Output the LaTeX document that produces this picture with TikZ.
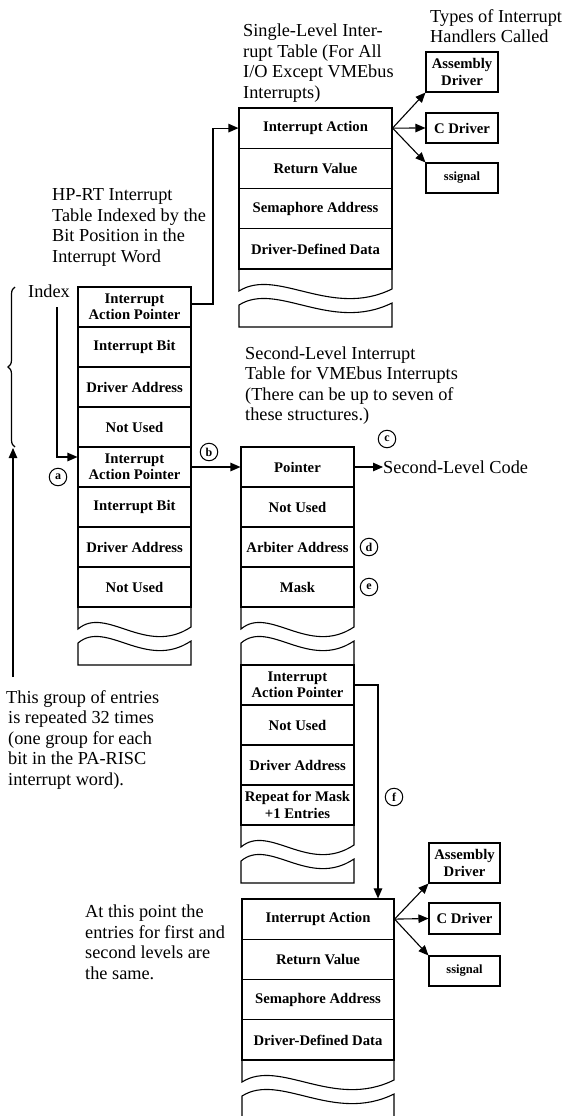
\documentclass[tikz,border=0pt]{standalone}
\usepackage{fontspec}
\setmainfont{Liberation Serif}
\usetikzlibrary{arrows.meta,decorations.pathreplacing}

\newcommand\cellfont{\bfseries\fontsize{14.7}{16.5}\selectfont}
\newcommand\labelfont{\fontsize{18.3}{20.4}\selectfont}

% torn-off end of a table: upper piece ending in a wave, lower piece starting with one
% #1 = left x, #2 = right x, #3 = top y, #4 = bottom y
\newcommand\tablebreak[4]{%
  \pgfmathsetmacro\bw{#2-#1}%
  \draw[brk] (#1,#3) -- (#1,#3+22)
    .. controls (#1+0.25*\bw,#3-2) and (#1+0.6*\bw,#3+50) .. (#2,#3+20) -- (#2,#3);
  \draw[brk] (#1,#3+36)
    .. controls (#1+0.25*\bw,#3+12) and (#1+0.6*\bw,#3+64) .. (#2,#3+34)
    -- (#2,#4) -- (#1,#4) -- cycle;
}

\begin{document}
\begin{tikzpicture}[x=1pt,y=-1pt,
  cell/.style={draw, line width=1.1pt, inner sep=0pt, align=center, font=\cellfont},
  lcell/.style={cell, minimum width=113pt, minimum height=40pt},
  tcell/.style={cell, minimum width=153pt, minimum height=40.25pt},
  bcell/.style={cell, minimum width=152pt, minimum height=40.25pt},
  hbox/.style={cell, minimum width=72pt},
  brk/.style={line width=1.1pt},
  conn/.style={line width=1.1pt, -{Triangle[length=10pt,width=8.5pt]}},
  circ/.style={draw, circle, line width=1pt, inner sep=0pt, minimum size=17.5pt,
    font=\bfseries\fontsize{12}{12}\selectfont},
  % multi-line captions are placed by the baseline of their last line
  caption/.style={anchor=base west, inner sep=0pt, align=left, font=\labelfont}
]
\useasboundingbox (0,0) rectangle (564,1116);

% ---------- captions ----------
\node[caption] (capSingle) at (243,98) {Single-Level Inter-\\rupt Table (For All\\I/O Except VMEbus\\Interrupts)};
\node[caption] (capTypes) at (430,43) {Types of Interrupt\\Handlers Called};
\node[caption] (capHPRT) at (52,262) {HP-RT Interrupt\\Table Indexed by the\\Bit Position in the\\Interrupt Word};
\node[caption] (capSecond) at (245,420.5) {Second-Level Interrupt\\Table for VMEbus Interrupts\\(There can be up to seven of\\these structures.)};
\node[caption] (capGroup) at (6,785) {This group of entries\\\hspace{2pt}is repeated 32 times\\\hspace{2pt}(one group for each\\\hspace{2pt}bit in the PA-RISC\\\hspace{2pt}interrupt word).};
\node[caption] (capSame) at (85,979) {At this point the\\entries for first and\\second levels are\\the same.};
\node[caption] (index) at (28,297) {Index};

% ---------- HP-RT interrupt table ----------
\node[lcell] (L1) at (134.5,307) {Interrupt\\Action Pointer};
\node[lcell] (L2) at (134.5,347) {Interrupt Bit};
\node[lcell] (L3) at (134.5,387) {Driver Address};
\node[lcell] (L4) at (134.5,427) {Not Used};
\node[lcell] (L5) at (134.5,467) {Interrupt\\Action Pointer};
\node[lcell] (L6) at (134.5,507) {Interrupt Bit};
\node[lcell] (L7) at (134.5,547) {Driver Address};
\node[lcell] (L8) at (134.5,587) {Not Used};
\tablebreak{78}{191}{607}{665}

% ---------- single-level table ----------
\node[tcell] (T1) at (315.5,128.1) {Interrupt Action};
\node[tcell] (T2) at (315.5,168.4) {Return Value};
\node[tcell] (T3) at (315.5,208.6) {Semaphore Address};
\node[tcell] (T4) at (315.5,248.9) {Driver-Defined Data};
\tablebreak{239}{392}{269}{327}

% ---------- handlers (top) ----------
\node[hbox, minimum height=40pt] (HA1) at (462,72) {Assembly\\Driver};
\node[hbox, minimum height=30pt] (HC1) at (462,128) {C Driver};
\node[hbox, minimum height=30pt, font=\bfseries\fontsize{12.5}{14}\selectfont] (HS1) at (462,178) {ssignal};

% ---------- second-level table ----------
\node[lcell] (M1) at (297.5,467) {Pointer};
\node[lcell] (M2) at (297.5,507) {Not Used};
\node[lcell] (M3) at (297.5,547) {Arbiter Address};
\node[lcell] (M4) at (297.5,587) {Mask};
\tablebreak{241}{354}{607}{665}
\node[lcell] (M5) at (297.5,685) {Interrupt\\Action Pointer};
\node[lcell] (M6) at (297.5,725) {Not Used};
\node[lcell] (M7) at (297.5,765) {Driver Address};
\node[lcell] (M8) at (297.5,805) {Repeat for Mask\\+1 Entries};
\tablebreak{241}{354}{825}{883}

% ---------- shared action table (bottom) ----------
\node[bcell] (B1) at (318,919.1) {Interrupt Action};
\node[bcell] (B2) at (318,959.4) {Return Value};
\node[bcell] (B3) at (318,999.6) {Semaphore Address};
\node[bcell] (B4) at (318,1039.9) {Driver-Defined Data};
\tablebreak{242}{394}{1060}{1130}

% ---------- handlers (bottom) ----------
\node[hbox, minimum width=71pt, minimum height=40pt] (HA2) at (464.5,863) {Assembly\\Driver};
\node[hbox, minimum width=71pt, minimum height=31pt] (HC2) at (464.5,918.5) {C Driver};
\node[hbox, minimum width=71pt, minimum height=30pt, font=\bfseries\fontsize{12.5}{14}\selectfont] (HS2) at (464.5,971) {ssignal};

% ---------- second-level code ----------
\node[anchor=west, inner sep=0pt, font=\labelfont] (slc) at (383,467) {Second-Level Code};

% ---------- callout letters ----------
\node[circ] (ca) at (58,477) {a};
\node[circ] (cb) at (209,452) {b};
\node[circ] (cc) at (387,439) {c};
\node[circ] (cd) at (369,547) {d};
\node[circ] (ce) at (369,587) {e};
\node[circ] (cf) at (394,797) {f};

% ---------- connectors ----------
\coordinate (idxTop) at (57,307);
\coordinate (idxTurn) at (57,457);
\coordinate (pTurn) at (213,304);
\coordinate (fTurn) at (378,685);
\coordinate (grpFoot) at (13,677);
\coordinate (grpTip) at (13,448);

\draw[conn] ([yshift=3pt]L1.east) -- (pTurn) |- (T1.west);
\draw[conn] (idxTop) -- (idxTurn) -- (idxTurn -| L5.west);
\draw[conn] (L5.east) -- (M1.west);
\draw[conn] (M1.east) -- (slc.west);
\draw[conn] (M5.east) -- (fTurn) -- (fTurn |- B1.north);
\draw[conn] (grpFoot) -- (grpTip);

\draw[conn] (T1.east) -- (HA1.south west);
\draw[conn] (T1.east) -- (HC1.west);
\draw[conn] (T1.east) -- (HS1.north west);
\draw[conn] (B1.east) -- (HA2.south west);
\draw[conn] (B1.east) -- (HC2.west);
\draw[conn] (B1.east) -- (HS2.north west);

% brace grouping the first block of entries
\draw[line width=1.2pt, decorate, decoration={brace, amplitude=7pt}] (15,447) -- (15,287);
\end{tikzpicture}
\end{document}
